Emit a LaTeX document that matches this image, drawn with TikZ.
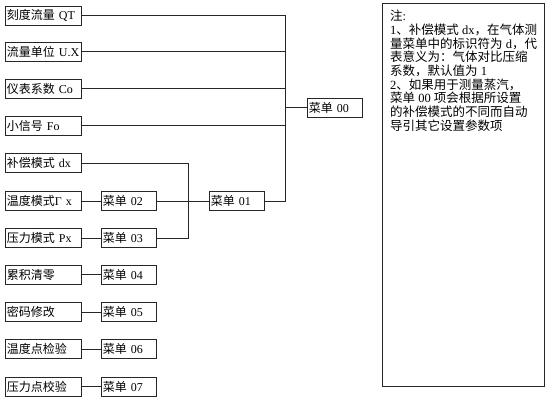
\documentclass[tikz,border=0pt]{standalone}
\usepackage{fontspec}
\setmainfont{Liberation Serif}
\newfontfamily\cjk{Noto Sans CJK SC}
\begin{document}
\begin{tikzpicture}[x=1pt,y=-1pt,
  box/.style={draw=black!85, line width=0.8pt, minimum height=19pt, inner sep=1.5pt, anchor=west, align=left, font=\fontsize{12}{14}\selectfont},
  lbox/.style={box, text width=73pt},
  mbox/.style={box, text width=52pt},
  conn/.style={draw=black!85, line width=0.8pt}]
\useasboundingbox (0,0) rectangle (550,401);
% left column
\node[lbox] (L1) at (5,15.5) {{\cjk 刻度流量} QT};
\node[lbox] (L2) at (5,51.5) {{\cjk 流量单位} U.X};
\node[lbox] (L3) at (5,88.5) {{\cjk 仪表系数} Co};
\node[lbox] (L4) at (5,125.5) {{\cjk 小信号} Fo};
\node[lbox] (L5) at (5,163) {{\cjk 补偿模式} dx};
\node[lbox] (L6) at (5,201) {{\cjk 温度模式}Γ x};
\node[lbox] (L7) at (5,238) {{\cjk 压力模式} Px};
\node[lbox] (L8) at (5,274.5) {{\cjk 累积清零}};
\node[lbox] (L9) at (5,312) {{\cjk 密码修改}};
\node[lbox] (L10) at (5,349) {{\cjk 温度点检验}};
\node[lbox] (L11) at (5,386.5) {{\cjk 压力点校验}};
% menus
\node[mbox] (M02) at (101,201) {{\cjk 菜单} 02};
\node[mbox] (M03) at (101,238) {{\cjk 菜单} 03};
\node[mbox] (M04) at (101,274.5) {{\cjk 菜单} 04};
\node[mbox] (M05) at (101,312) {{\cjk 菜单} 05};
\node[mbox] (M06) at (101,349) {{\cjk 菜单} 06};
\node[mbox] (M07) at (101,386.5) {{\cjk 菜单} 07};
\node[mbox] (M01) at (209,201) {{\cjk 菜单} 01};
\node[mbox] (M00) at (307,107.5) {{\cjk 菜单} 00};
% bus coordinates
\coordinate (busA) at (285,0);
\coordinate (busB) at (188,0);
% connectors
\draw[conn] (M01.east) -- (M01.east -| busA) |- (L1.east);
\draw[conn] (L2.east) -- (L2.east -| busA);
\draw[conn] (L3.east) -- (L3.east -| busA);
\draw[conn] (L4.east) -- (L4.east -| busA);
\draw[conn] (M00.west -| busA) -- (M00.west);
\draw[conn] (L5.east) -- (L5.east -| busB) |- (M03.east);
\draw[conn] (M02.east) -- (M01.west);
\draw[conn] (L6.east) -- (M02.west);
\draw[conn] (L7.east) -- (M03.west);
\draw[conn] (L8.east) -- (M04.west);
\draw[conn] (L9.east) -- (M05.west);
\draw[conn] (L10.east) -- (M06.west);
\draw[conn] (L11.east) -- (M07.west);
% note
\node[draw=black!85, line width=0.8pt, minimum width=162pt, minimum height=383pt, anchor=north west, inner sep=0pt] (note) at (382,3) {};
\node[anchor=north west, inner sep=0pt, align=left, font=\fontsize{12.5}{13.7}\selectfont] (notetext) at (390,10) {%
{\cjk 注}:\\
1{\cjk 、补偿模式} dx{\cjk ，在气体测}\\
{\cjk 量菜单中的标识符为} d{\cjk ，代}\\
{\cjk 表意义为：气体对比压缩}\\
{\cjk 系数，默认值为} 1\\
2{\cjk 、如果用于测量蒸汽，}\\
{\cjk 菜单} 00 {\cjk 项会根据所设置}\\
{\cjk 的补偿模式的不同而自动}\\
{\cjk 导引其它设置参数项}};
\end{tikzpicture}
\end{document}
